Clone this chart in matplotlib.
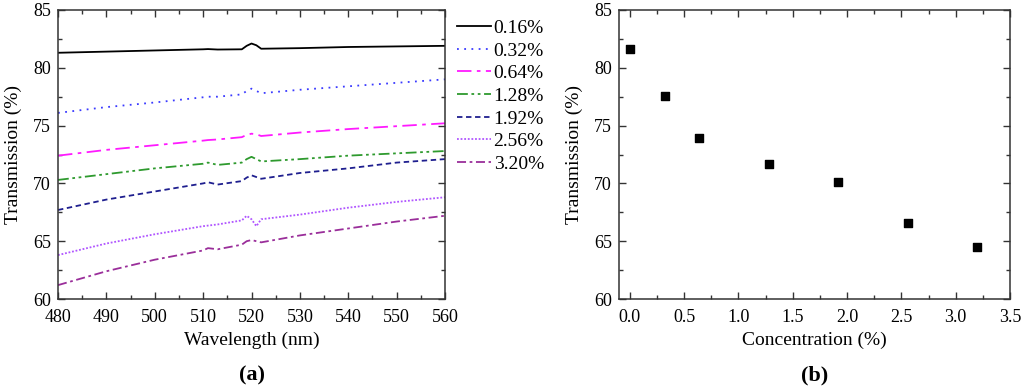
import matplotlib
matplotlib.use('Agg')
import matplotlib.pyplot as plt
from matplotlib.ticker import MultipleLocator, FormatStrFormatter

plt.rcParams['font.family'] = ['Liberation Serif', 'DejaVu Serif']

# (a) transmission spectra
wavelength = [480, 490, 500, 510, 511, 513, 518, 519, 520, 521, 522, 530, 540, 550, 560]
t_016 = [81.3, 81.4, 81.5, 81.6, 81.62, 81.58, 81.6, 81.9, 82.1, 81.95, 81.65, 81.7, 81.8, 81.85, 81.9]
t_032 = [76.1, 76.6, 77.0, 77.45, 77.5, 77.5, 77.7, 78.0, 78.2, 78.0, 77.8, 78.1, 78.4, 78.7, 79.0]
t_064 = [72.4, 72.9, 73.3, 73.7, 73.75, 73.8, 74.0, 74.2, 74.3, 74.25, 74.1, 74.4, 74.7, 74.95, 75.2]
t_128 = [70.3, 70.8, 71.3, 71.7, 71.8, 71.6, 71.8, 72.1, 72.3, 72.1, 71.9, 72.1, 72.4, 72.6, 72.8]
t_192 = [67.7, 68.6, 69.3, 70.0, 70.1, 69.9, 70.2, 70.5, 70.7, 70.55, 70.4, 70.9, 71.3, 71.8, 72.1]
t_256 = [63.8, 64.8, 65.6, 66.3, 66.35, 66.45, 66.8, 67.2, 66.9, 66.3, 66.9, 67.3, 67.9, 68.4, 68.8]
t_320 = [61.2, 62.4, 63.4, 64.2, 64.4, 64.3, 64.7, 65.0, 65.1, 65.0, 64.9, 65.5, 66.1, 66.7, 67.2]
labels = ['0.16%', '0.32%', '0.64%', '1.28%', '1.92%', '2.56%', '3.20%']

# (b) transmission vs concentration
conc = [0.0, 0.32, 0.64, 1.28, 1.92, 2.56, 3.20]
trans = [81.6, 77.55, 73.9, 71.7, 70.1, 66.6, 64.5]

series = [t_016, t_032, t_064, t_128, t_192, t_256, t_320]
colors = ['black', '#3a3aff', '#ff1aff', '#2e9a2e', '#1f1f8f', '#b055ff', '#9a2e9a']
styles = ['-', (0, (1, 3)), (0, (8, 3, 2, 3)), (0, (6, 2, 1.5, 2, 1.5, 2)),
          (0, (3, 2)), (0, (1, 1)), (0, (5, 2, 1.5, 2))]

fig = plt.figure(figsize=(10.24, 3.9), dpi=100)
ax1 = fig.add_axes([58/1024, 1 - 299/390, 387/1024, 289/390])
ax2 = fig.add_axes([619/1024, 1 - 299/390, 391/1024, 289/390])

for y, c, ls, lab in zip(series, colors, styles, labels):
    ax1.plot(wavelength, y, color=c, linestyle=ls, linewidth=1.3, label=lab)

ax1.set_xlim(480, 560)
ax1.set_ylim(60, 85)
ax1.xaxis.set_major_locator(MultipleLocator(10))
ax1.xaxis.set_minor_locator(MultipleLocator(5))
ax1.yaxis.set_major_locator(MultipleLocator(5))
ax1.yaxis.set_minor_locator(MultipleLocator(2.5))
ax1.set_xlabel('Wavelength (nm)', fontsize=14, labelpad=4)
ax1.set_ylabel('Transmission (%)', fontsize=14, labelpad=8)
ax1.legend(loc='upper left', bbox_to_anchor=(1.01, 0.995), frameon=False,
           fontsize=14, handlelength=1.75, handletextpad=0.15,
           labelspacing=0.26, borderaxespad=0)

ax2.scatter(conc, trans, marker='s', s=38, color='black', zorder=3)
ax2.set_xlim(-0.1, 3.5)
ax2.set_ylim(60, 85)
ax2.xaxis.set_major_locator(MultipleLocator(0.5))
ax2.xaxis.set_minor_locator(MultipleLocator(0.25))
ax2.yaxis.set_major_locator(MultipleLocator(5))
ax2.yaxis.set_minor_locator(MultipleLocator(2.5))
ax2.xaxis.set_major_formatter(FormatStrFormatter('%.1f'))
ax2.set_xlabel('Concentration (%)', fontsize=14, labelpad=4)
ax2.set_ylabel('Transmission (%)', fontsize=14, labelpad=8)

for ax in (ax1, ax2):
    ax.tick_params(which='both', direction='in', top=True, right=True,
                   labelsize=13, color='#333333')
    ax.tick_params(which='major', length=5, width=1)
    ax.tick_params(which='minor', length=3, width=1)
    ax.tick_params(axis='x', pad=7)
    ax.tick_params(axis='y', pad=5)
    for sp in ax.spines.values():
        sp.set_linewidth(1.1)
        sp.set_color('#333333')

fig.text((58 + 445) / 2 / 1024, 1 - 375/390, '(a)', ha='center', va='center',
         fontsize=16, fontweight='bold')
fig.text((619 + 1010) / 2 / 1024, 1 - 375/390, '(b)', ha='center', va='center',
         fontsize=16, fontweight='bold')

fig.savefig('out.png', dpi=100)
